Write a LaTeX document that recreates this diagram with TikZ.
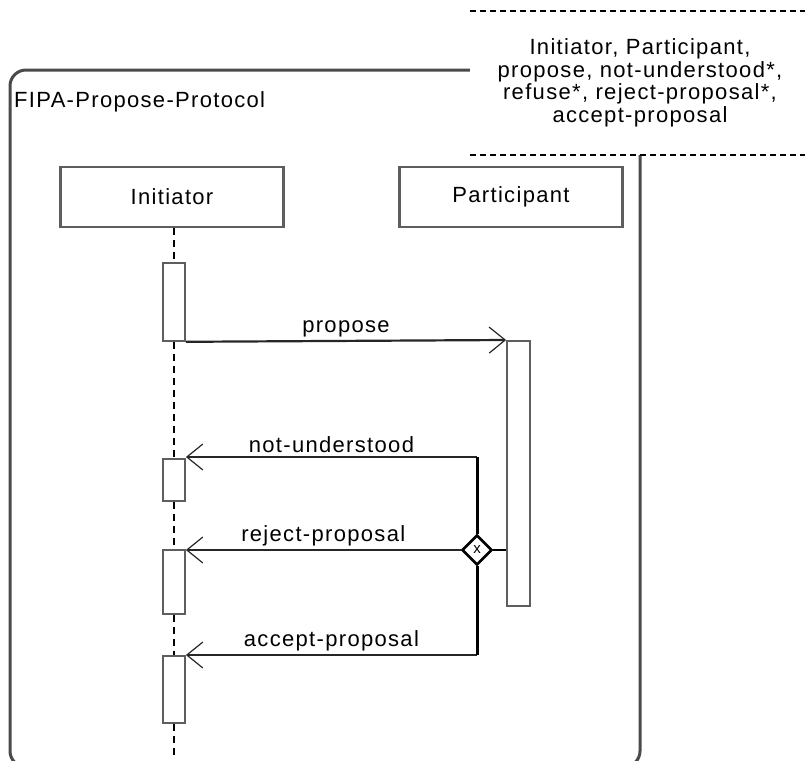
\documentclass[tikz,border=0pt]{standalone}
\usepackage{fontspec}
\setmainfont{Liberation Sans}[LetterSpace=6]
\usetikzlibrary{arrows.meta,positioning,shapes.geometric}
\definecolor{framegray}{HTML}{4A4A4A}
\definecolor{boxgray}{HTML}{5E5E5E}
\tikzset{lifebox/.style={draw=boxgray,line width=2.2pt,minimum width=223pt,minimum height=60pt,inner sep=0pt},actbox/.style={draw=boxgray,line width=1.8pt,fill=white,minimum width=22pt,inner sep=0pt,anchor=north},msg/.style={-{Straight Barb[length=16pt,width=26pt,line width=1.2pt]},line width=2.2pt,draw=black!85},lifeline/.style={dashed,line width=2pt,dash pattern=on 7pt off 5pt},xorline/.style={line width=3pt},lbl/.style={above,inner sep=3pt}}

\begin{document}
\begin{tikzpicture}[x=1pt,y=-1pt,font=\fontsize{22}{22.5}\selectfont]
\useasboundingbox (0,0) rectangle (805,760);
\draw[framegray,line width=3pt,rounded corners=16pt] (10,70) rectangle (640,767);
\node[fill=white,minimum width=340pt,minimum height=144pt,align=center,inner sep=0pt] (params) at (640,83)
 {Initiator, Participant,\\propose, not-understood*,\\refuse*, reject-proposal*,\\accept-proposal};
\draw[dashed,line width=1.5pt,dash pattern=on 6pt off 4pt] (params.north west) -- (params.north east);
\draw[dashed,line width=1.5pt,dash pattern=on 6pt off 4pt] (params.south west) -- (params.south east);
\node[anchor=west,inner sep=0pt] (title) at (14,102) {FIPA-Propose-Protocol};
\node[lifebox] (init) at (172,197) {Initiator};
\node[lifebox] (part) at (511,197) {Participant};
\node[actbox,minimum height=78pt] (act1) at (174,262) {};
\node[actbox,minimum height=42pt] (act2) at (174,458) {};
\node[actbox,minimum height=64pt] (act3) at (174,549) {};
\node[actbox,minimum height=67pt] (act4) at (174,655) {};
\node[actbox,minimum height=265pt,minimum width=23pt] (pact) at (518.5,340) {};
\coordinate (lifeend) at (174,758);
\coordinate (nu) at (477,457);
\coordinate (ac) at (477,655);
\node[diamond,draw,line width=2.6pt,fill=white,minimum size=30pt,inner sep=0pt,font=\fontsize{15}{15}\selectfont] (xor) at (477,550) {x};
% lifeline of the initiator
\draw[lifeline] (init.south -| act1) -- (act1.north);
\draw[lifeline] (act1.south) -- (act2.north);
\draw[lifeline] (act2.south) -- (act3.north);
\draw[lifeline] (act3.south) -- (act4.north);
\draw[lifeline] (act4.south) -- (lifeend);
% messages
\draw[msg] (act1.south east) -- node[lbl] {propose} (pact.north west);
\draw[msg] (nu) -- node[lbl] {not-understood} (nu -| act2.east);
\draw[msg] (xor.west) -- node[lbl] {reject-proposal} (xor.west -| act3.east);
\draw[msg] (ac) -- node[lbl] {accept-proposal} (ac -| act4.east);
\draw[line width=2pt] (xor.east) -- (xor -| pact.west);
\draw[xorline] (nu) -- (xor.north);
\draw[xorline] (xor.south) -- (ac);
\end{tikzpicture}
\end{document}
